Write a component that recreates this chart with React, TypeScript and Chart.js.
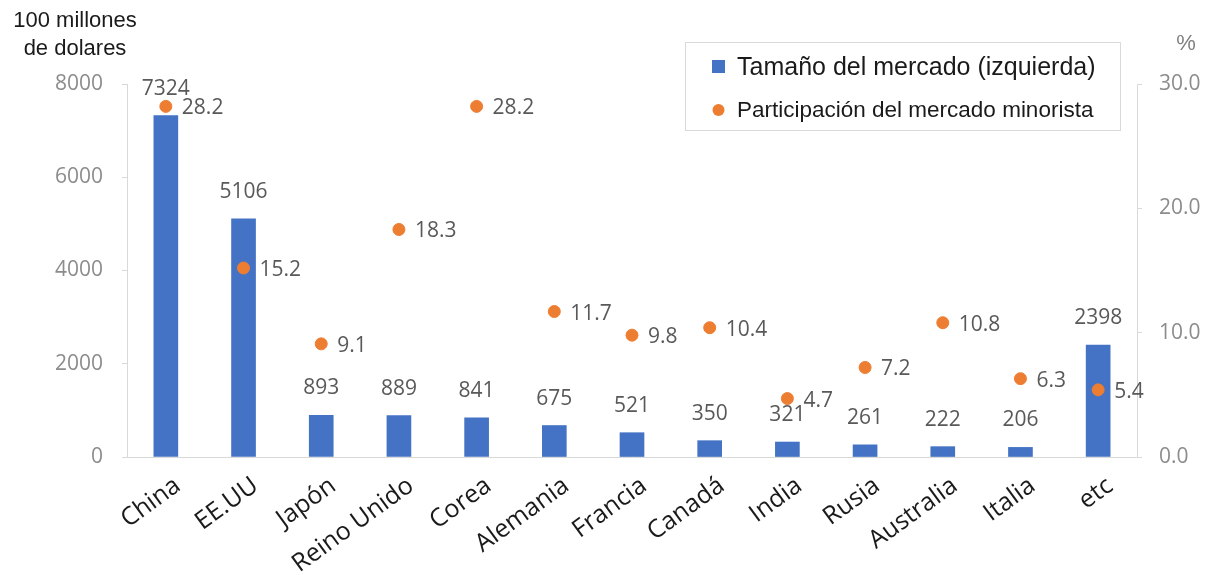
import React, { useEffect, useRef } from "react";
import { Chart, registerables } from "chart.js";

Chart.register(...registerables);

const categories = ["China", "EE.UU", "Japón", "Reino Unido", "Corea", "Alemania", "Francia", "Canadá", "India", "Rusia", "Australia", "Italia", "etc"];
const marketSize = [7324, 5106, 893, 889, 841, 675, 521, 350, 321, 261, 222, 206, 2398];
const retailShare = [28.2, 15.2, 9.1, 18.3, 28.2, 11.7, 9.8, 10.4, 4.7, 7.2, 10.8, 6.3, 5.4];
const leftTicks = [0, 2000, 4000, 6000, 8000];
const rightTicks = [0, 10, 20, 30];
const seriesNames = ["Tamaño del mercado (izquierda)", "Participación del mercado minorista"];
const leftTitle = ["100 millones", "de dolares"];
const rightTitle = "%";

const BLUE = "#4472C4";
const ORANGE = "#ED7D31";
const LABEL_FONT = "'Open Sans', sans-serif";
const ARIAL = "'Liberation Sans', Arial, sans-serif";

const overlayPlugin = {
  id: "overlay",
  afterDatasetsDraw(chart: any) {
    const ctx = chart.ctx;
    ctx.save();
    // bar value labels
    const barMeta = chart.getDatasetMeta(0);
    ctx.font = `21px ${LABEL_FONT}`;
    ctx.fillStyle = "#595959";
    ctx.textAlign = "center";
    ctx.textBaseline = "middle";
    barMeta.data.forEach((el: any, i: number) => {
      ctx.fillText(String(marketSize[i]), el.x, el.y - 27);
    });
    // point labels
    const ptMeta = chart.getDatasetMeta(1);
    ctx.textAlign = "left";
    ptMeta.data.forEach((el: any, i: number) => {
      ctx.fillText(retailShare[i].toFixed(1), el.x + 16, el.y + 2);
    });
    ctx.restore();
  },
  afterDraw(chart: any) {
    const ctx = chart.ctx;
    ctx.save();
    // axis titles
    ctx.fillStyle = "#1a1a1a";
    ctx.font = `22px ${ARIAL}`;
    ctx.textAlign = "center";
    ctx.textBaseline = "middle";
    ctx.fillText(leftTitle[0], 75, 21);
    ctx.fillText(leftTitle[1], 75, 49);
    ctx.fillStyle = "#7f7f7f";
    ctx.fillText(rightTitle, 1186, 44);
    // legend box
    ctx.fillStyle = "#ffffff";
    ctx.fillRect(685.5, 42.5, 435, 88);
    ctx.strokeStyle = "#d9d9d9";
    ctx.lineWidth = 1;
    ctx.strokeRect(685.5, 42.5, 435, 88);
    ctx.fillStyle = BLUE;
    ctx.fillRect(712, 60, 13, 13);
    ctx.fillStyle = ORANGE;
    ctx.beginPath();
    ctx.arc(718.5, 110, 6, 0, Math.PI * 2);
    ctx.fill();
    ctx.fillStyle = "#1a1a1a";
    ctx.textAlign = "left";
    ctx.font = `25px ${ARIAL}`;
    ctx.fillText(seriesNames[0], 737, 68);
    ctx.font = `22.5px ${ARIAL}`;
    ctx.fillText(seriesNames[1], 737, 111);
    ctx.restore();
  },
};

export default function App() {
  const ref = useRef<HTMLCanvasElement | null>(null);
  useEffect(() => {
    if (!ref.current) return;
    const chart = new Chart(ref.current, {
      type: "bar",
      data: {
        labels: categories,
        datasets: [
          {
            type: "bar",
            label: seriesNames[0],
            data: marketSize,
            backgroundColor: BLUE,
            barThickness: 24,
            yAxisID: "y",
            order: 2,
          },
          {
            type: "line",
            label: seriesNames[1],
            data: retailShare,
            showLine: false,
            pointRadius: 6,
            pointHoverRadius: 6,
            pointBackgroundColor: ORANGE,
            pointBorderColor: ORANGE,
            borderColor: ORANGE,
            backgroundColor: ORANGE,
            yAxisID: "y1",
            order: 1,
          } as any,
        ],
      },
      options: {
        responsive: false,
        animation: false,
        layout: { padding: { top: 84, left: 0, right: 0, bottom: 0 } },
        plugins: {
          legend: { display: false },
          tooltip: { enabled: false },
          title: { display: false },
        },
        scales: {
          x: {
            offset: true,
            grid: { display: false, drawTicks: false },
            border: { display: true, color: "#d9d9d9", width: 1 },
            ticks: {
              autoSkip: false,
              minRotation: 36,
              maxRotation: 36,
              padding: 14,
              labelOffset: 12,
              color: "#1a1a1a",
              font: { family: "'Open Sans', sans-serif", size: 25 },
            },
            afterFit(scale: any) {
              scale.height = 118;
            },
          },
          y: {
            position: "left",
            min: 0,
            max: 8000,
            afterBuildTicks(scale: any) {
              scale.ticks = leftTicks.map((v) => ({ value: v }));
            },
            grid: { drawOnChartArea: false, drawTicks: true, tickLength: 5, color: "#d9d9d9" },
            border: { display: true, color: "#d9d9d9" },
            ticks: {
              padding: 19,
              color: "#8c8c8c",
              font: { family: "'Open Sans', sans-serif", size: 21 },
              callback: (v: any) => String(v),
            },
            afterFit(scale: any) {
              scale.width = 127;
            },
          },
          y1: {
            position: "right",
            min: 0,
            max: 30,
            afterBuildTicks(scale: any) {
              scale.ticks = rightTicks.map((v) => ({ value: v }));
            },
            grid: { drawOnChartArea: false, drawTicks: true, tickLength: 5, color: "#d9d9d9" },
            border: { display: true, color: "#d9d9d9" },
            ticks: {
              padding: 17,
              color: "#8c8c8c",
              font: { family: "'Open Sans', sans-serif", size: 21 },
              callback: (v: any) => Number(v).toFixed(1),
            },
            afterFit(scale: any) {
              scale.width = 74;
            },
          },
        },
      },
      plugins: [overlayPlugin],
    });
    return () => chart.destroy();
  }, []);
  return (
    <div style={{ position: "absolute", left: 0, top: 0, width: 1211, height: 575, background: "#fff" }}>
      <canvas ref={ref} width={1211} height={575} style={{ width: 1211, height: 575, display: "block" }} />
    </div>
  );
}
